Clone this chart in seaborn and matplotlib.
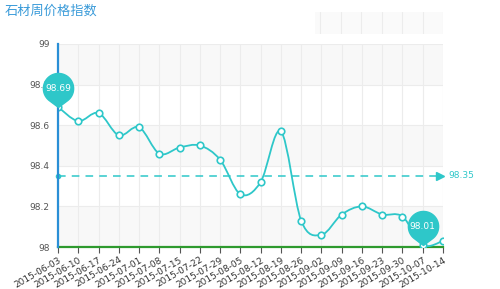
import numpy as np
import pandas as pd
import matplotlib
matplotlib.use("Agg")
import matplotlib.pyplot as plt
from matplotlib.path import Path
from matplotlib.patches import PathPatch, Rectangle
from matplotlib.markers import MarkerStyle
import seaborn as sns

dates = ["2015-06-03", "2015-06-10", "2015-06-17", "2015-06-24", "2015-07-01",
         "2015-07-08", "2015-07-15", "2015-07-22", "2015-07-29", "2015-08-05",
         "2015-08-12", "2015-08-19", "2015-08-26", "2015-09-02", "2015-09-09",
         "2015-09-16", "2015-09-23", "2015-09-30", "2015-10-07", "2015-10-14"]
values = [98.69, 98.62, 98.66, 98.55, 98.59, 98.46, 98.49, 98.50, 98.43, 98.26,
          98.32, 98.57, 98.13, 98.06, 98.16, 98.20, 98.16, 98.15, 98.01, 98.03]
avg_value = 98.35
max_label = "98.69"
min_label = "98.01"
yticks = [98, 98.2, 98.4, 98.6, 98.8, 99]
ytick_labels = ["98", "98.2", "98.4", "98.6", "98.8", "99"]
title = "石材周价格指数"

teal = "#2ec7c9"
df = pd.DataFrame({"date": dates, "value": values})
df["pos"] = np.arange(len(df))

sns.set_theme(style="white")
plt.rcParams["font.family"] = ["Noto Sans CJK SC", "DejaVu Sans"]

fig = plt.figure(figsize=(5.0, 2.89), dpi=100)
ax = fig.add_axes([0.116, 0.1453, 0.77, 0.7025])
ax.set_xlim(0, len(dates) - 1)
ax.set_ylim(98, 99)

# alternating bands
for i in range(len(yticks) - 1):
    if i % 2 == 0:
        ax.axhspan(yticks[i], yticks[i + 1], color="#f8f8f8", zorder=0, lw=0)
for x in df["pos"]:
    ax.axvline(x, color="#ececec", lw=0.8, zorder=0.5)
for y in yticks:
    ax.axhline(y, color="#ececec", lw=0.8, zorder=0.5)

# smooth line (Catmull-Rom through data points)
xs = df["pos"].to_numpy(float)
ys = df["value"].to_numpy(float)
n = len(xs)
verts = [(xs[0], ys[0])]
codes = [Path.MOVETO]
for i in range(n - 1):
    p0 = np.array([xs[max(i - 1, 0)], ys[max(i - 1, 0)]])
    p1 = np.array([xs[i], ys[i]])
    p2 = np.array([xs[i + 1], ys[i + 1]])
    p3 = np.array([xs[min(i + 2, n - 1)], ys[min(i + 2, n - 1)]])
    c1 = p1 + (p2 - p0) / 6.0
    c2 = p2 - (p3 - p1) / 6.0
    verts += [tuple(c1), tuple(c2), tuple(p2)]
    codes += [Path.CURVE4] * 3
ax.add_patch(PathPatch(Path(verts, codes), fill=False, edgecolor=teal, lw=1.3, zorder=3))

sns.scatterplot(data=df, x="pos", y="value", ax=ax, s=22, marker="o",
                facecolor="white", edgecolor=teal, linewidth=1.2, zorder=4, legend=False)

# average mark line
ax.plot([0, len(dates) - 1.3], [avg_value, avg_value], color=teal, lw=1.1,
        ls=(0, (5, 4)), zorder=3)
ax.plot([0], [avg_value], marker="o", ms=3, color=teal, zorder=4, clip_on=False)
ax.plot([len(dates) - 1.15], [avg_value], marker=">", ms=6, color=teal, zorder=4,
        clip_on=False, mec=teal)
ax.annotate(f"{avg_value:.2f}", (len(dates) - 1, avg_value), xytext=(4, 0),
            textcoords="offset points", va="center", ha="left", fontsize=6.5,
            color=teal, family=["DejaVu Sans"], annotation_clip=False)

# pin markers
c, r = 1.25, 1.0
a = np.degrees(np.arccos(r / c))
theta = np.radians(np.linspace(-90 + a, 270 - a, 60))
pv = [(0, 0)] + [(r * np.cos(t), c + r * np.sin(t)) for t in theta] + [(0, 0)]
pin = Path(pv, [Path.MOVETO] + [Path.LINETO] * (len(pv) - 2) + [Path.CLOSEPOLY])
ms = 49
center_off = ms * 0.5 * c / (c + r)
imax = int(np.argmax(values))
imin = int(np.argmin(values))
for idx, lab in [(imax, max_label), (imin, min_label)]:
    ax.plot([idx], [values[idx]], marker=MarkerStyle(pin), ms=ms, color=teal,
            mec=teal, zorder=6, clip_on=False, ls="none")
    ax.annotate(lab, (idx, values[idx]), xytext=(0, center_off),
                textcoords="offset points", ha="center", va="center",
                fontsize=6.5, color="white", zorder=7, family=["DejaVu Sans"],
                annotation_clip=False)

# axes styling
for s in ["top", "right"]:
    ax.spines[s].set_visible(False)
ax.spines["left"].set_color("#2a8fd6")
ax.spines["left"].set_linewidth(1.6)
ax.spines["bottom"].set_color("#2e9a2e")
ax.spines["bottom"].set_linewidth(1.6)
ax.spines["left"].set_zorder(5)
ax.set_yticks(yticks)
ax.set_yticklabels(ytick_labels, fontsize=6.5, color="#555555", family=["DejaVu Sans"])
ax.set_xticks(df["pos"])
ax.set_xticklabels(dates, rotation=30, ha="right", rotation_mode="anchor",
                   fontsize=6.5, color="#333333", family=["DejaVu Sans"])
ax.tick_params(axis="x", length=4, width=0.8, color="#555555", pad=2, bottom=True)
ax.tick_params(axis="y", length=0, pad=6)
ax.set_xlabel("")
ax.set_ylabel("")

# faint top-right strip
ax2 = fig.add_axes([315 / 500, 1 - 34 / 289, (443 - 315) / 500, 22 / 289])
ax2.set_xlim(12.75, 19)
ax2.set_ylim(0, 1)
ax2.set_facecolor("#fafafa")
for x in range(13, 20):
    ax2.axvline(x, color="#ececec", lw=0.8)
ax2.set_xticks([])
ax2.set_yticks([])
for s in ax2.spines.values():
    s.set_visible(False)

fig.text(0.01, 0.985, title, fontsize=9.5, color="#3a9bd9", ha="left", va="top")

fig.savefig("out.png", dpi=100)
